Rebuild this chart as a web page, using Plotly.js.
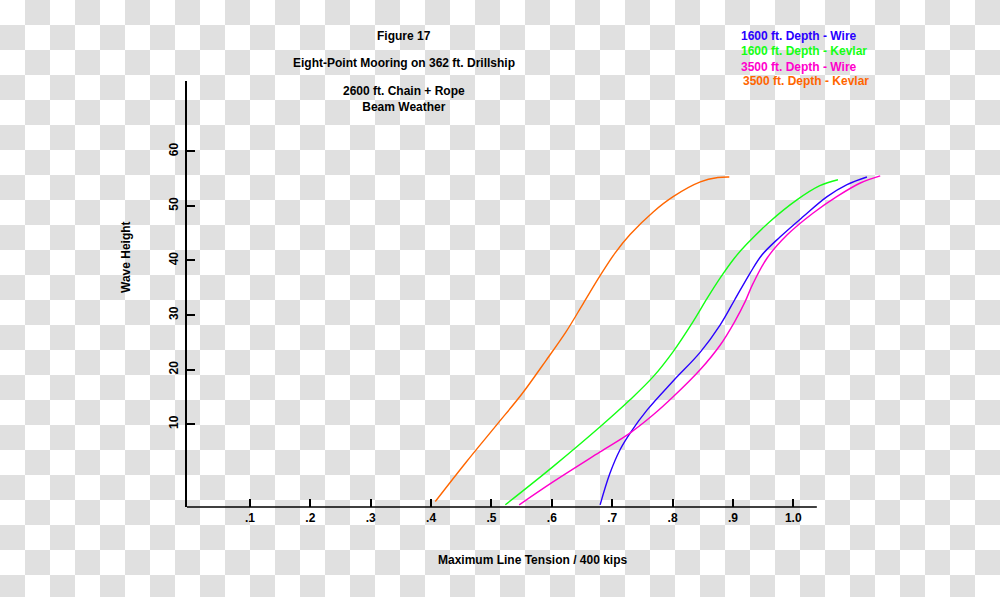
<!DOCTYPE html>
<html>
<head>
<meta charset="utf-8">
<script src="https://cdn.plot.ly/plotly-3.0.1.min.js"></script>
<style>
html, body { margin:0; padding:0; }
body {
  width:1000px; height:597px; overflow:hidden;
  background: repeating-conic-gradient(#e0e0e0 0 25%, #ffffff 0 50%) 0 0 / 50px 50px;
}
#chart { width:1000px; height:597px; }
</style>
</head>
<body>
<div id="chart"></div>
<script>
// ---- Data ----
const seriesNames = ["1600 ft. Depth - Wire", "1600 ft. Depth - Kevlar", "3500 ft. Depth - Wire", "3500 ft. Depth - Kevlar"];
const seriesColors = ["#2a00ff", "#14ff14", "#ff00cc", "#ff6600"];

const wire1600X = [0.680, 0.696, 0.713, 0.730, 0.758, 0.801, 0.846, 0.879, 0.903, 0.928, 0.948, 0.978, 1.016, 1.056, 1.089, 1.122];
const wire1600Y = [-4.8, 0.9, 5.3, 8.4, 12.6, 17.9, 23.2, 28.2, 32.8, 37.6, 41.0, 44.3, 48.0, 51.7, 53.9, 55.3];

const kevlar1600X = [0.523, 0.602, 0.680, 0.730, 0.768, 0.801, 0.834, 0.857, 0.879, 0.903, 0.923, 0.961, 1.006, 1.044, 1.074];
const kevlar1600Y = [-4.8, 2.2, 9.5, 14.5, 18.7, 23.3, 28.8, 33.0, 36.8, 40.5, 43.0, 47.1, 51.1, 53.7, 54.8];

const wire3500X = [0.546, 0.602, 0.680, 0.730, 0.768, 0.801, 0.846, 0.879, 0.903, 0.920, 0.933, 0.957, 0.990, 1.033, 1.072, 1.111, 1.144];
const wire3500Y = [-4.8, -0.6, 4.9, 8.4, 11.7, 15.0, 20.0, 24.5, 28.8, 32.4, 35.7, 40.5, 44.7, 48.7, 51.7, 54.2, 55.5];

const kevlar3500X = [0.407, 0.458, 0.509, 0.551, 0.590, 0.624, 0.652, 0.680, 0.705, 0.730, 0.768, 0.801, 0.846, 0.875, 0.894];
const kevlar3500Y = [-4.2, 3.0, 9.9, 15.6, 21.6, 27.0, 32.1, 37.2, 41.4, 44.8, 48.9, 51.7, 54.4, 55.2, 55.3];

const xTickVals = [0.1, 0.2, 0.3, 0.4, 0.5, 0.6, 0.7, 0.8, 0.9, 1.0];
const xTickText = [".1", ".2", ".3", ".4", ".5", ".6", ".7", ".8", ".9", "1.0"];
const yTickVals = [10, 20, 30, 40, 50, 60];
const yTickText = ["10", "20", "30", "40", "50", "60"];

const titleLines = ["Figure 17", "Eight-Point Mooring on 362 ft. Drillship", "2600 ft. Chain + Rope<br>Beam Weather"];
const xTitle = "Maximum Line Tension / 400 kips";
const yTitle = "Wave Height";

// ---- Chart ----
const FONT = "Liberation Sans, Arial, sans-serif";
const xs = [wire1600X, kevlar1600X, wire3500X, kevlar3500X];
const ys = [wire1600Y, kevlar1600Y, wire3500Y, kevlar3500Y];
const traces = xs.map((x, i) => ({
  x: x, y: ys[i], type: "scatter", mode: "lines", name: seriesNames[i],
  line: { color: seriesColors[i], width: 1.4, shape: "spline", smoothing: 1 },
  hoverinfo: "x+y+name"
}));

const XMIN = -0.0043, XMAX = 1.1602, XAXIS_END = 1.039;
const YMIN = -5.2, YMAX = 72.9;

const bold = { family: FONT, size: 12, color: "#000", weight: "bold" };

const annotations = [
  { text: titleLines[0], xref: "paper", yref: "paper", x: (404-187)/703, y: (507-36)/426, showarrow: false, xanchor: "center", yanchor: "middle", font: bold },
  { text: titleLines[1], xref: "paper", yref: "paper", x: (404-187)/703, y: (507-63)/426, showarrow: false, xanchor: "center", yanchor: "middle", font: bold },
  { text: titleLines[2], xref: "paper", yref: "paper", x: (404-187)/703, y: (507-99)/426, showarrow: false, xanchor: "center", yanchor: "middle", font: bold },
  { text: xTitle, xref: "paper", yref: "paper", x: (532-187)/703, y: (507-560)/426, showarrow: false, xanchor: "center", yanchor: "middle", font: bold },
  { text: yTitle, xref: "paper", yref: "paper", x: (126-187)/703, y: (507-257)/426, showarrow: false, xanchor: "center", yanchor: "middle", textangle: -90, font: bold }
];
const legendY = [36, 51, 66.5, 81.5];
const legendX = [739, 739, 739, 741];
seriesNames.forEach((n, i) => {
  annotations.push({
    text: n, xref: "paper", yref: "paper", x: (legendX[i]-187)/703, y: (507-legendY[i])/426,
    showarrow: false, xanchor: "left", yanchor: "middle",
    font: { family: FONT, size: 12, color: seriesColors[i], weight: "bold" }
  });
});

const layout = {
  width: 1000, height: 597,
  margin: { l: 187, r: 110, t: 81, b: 90, pad: 0 },
  paper_bgcolor: "rgba(0,0,0,0)", plot_bgcolor: "rgba(0,0,0,0)",
  showlegend: false,
  xaxis: {
    range: [XMIN, XMAX], showgrid: false, zeroline: false, showline: false,
    tickmode: "array", tickvals: xTickVals, ticktext: xTickText,
    ticks: "inside", ticklen: 8, tickwidth: 1.5, tickcolor: "#000",
    tickfont: bold, ticklabelstandoff: 2
  },
  yaxis: {
    range: [YMIN, YMAX], showgrid: false, zeroline: false, showline: true,
    linecolor: "#000", linewidth: 1.5,
    tickmode: "array", tickvals: yTickVals, ticktext: yTickText,
    ticks: "inside", ticklen: 8, tickwidth: 1.5, tickcolor: "#000",
    tickangle: -90, tickfont: bold, ticklabelstandoff: 2
  },
  shapes: [
    { type: "line", xref: "x", yref: "paper", x0: XMIN, x1: XAXIS_END, y0: 0, y1: 0,
      line: { color: "#000", width: 1.5 } }
  ],
  annotations: annotations
};

Plotly.newPlot("chart", traces, layout, { displayModeBar: false });
</script>
</body>
</html>
